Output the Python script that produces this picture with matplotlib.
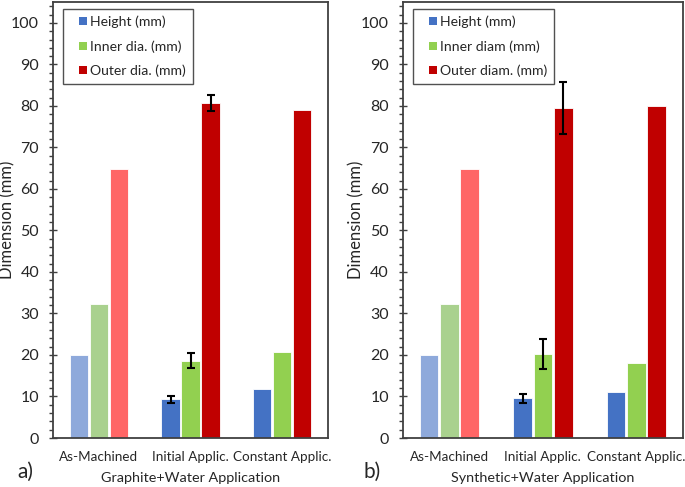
import numpy as np
import matplotlib
matplotlib.use("Agg")
import matplotlib.pyplot as plt
from matplotlib.patches import Patch, Rectangle
from matplotlib.legend_handler import HandlerPatch
from matplotlib.ticker import MultipleLocator

plt.rcParams['font.family'] = ['Lato', 'DejaVu Sans']

categories = ["As-Machined", "Initial Applic.", "Constant Applic."]

# Panel a) Graphite+Water
a_height = [20.0, 9.3, 11.9]
a_height_err = [0.0, 0.9, 0.0]
a_inner = [32.2, 18.6, 20.7]
a_inner_err = [0.0, 1.8, 0.0]
a_outer = [64.8, 80.7, 79.1]
a_outer_err = [0.0, 1.9, 0.0]

# Panel b) Synthetic+Water
b_height = [20.0, 9.6, 11.1]
b_height_err = [0.0, 1.1, 0.0]
b_inner = [32.2, 20.2, 18.1]
b_inner_err = [0.0, 3.6, 0.0]
b_outer = [64.8, 79.5, 80.0]
b_outer_err = [0.0, 6.2, 0.0]

a_labels = ["Height (mm)", "Inner dia. (mm)", "Outer dia. (mm)"]
b_labels = ["Height (mm)", "Inner diam (mm)", "Outer diam. (mm)"]

dark_colors = ["#4472C4", "#92D050", "#C00000"]
light_colors = ["#8EA9DB", "#A9D18E", "#FF6666"]

fig = plt.figure(figsize=(6.85, 4.87), dpi=100)
ax1 = fig.add_axes([0.0774, 0.1006, 0.4015, 0.895])
ax2 = fig.add_axes([0.588, 0.1006, 0.409, 0.895])


def square_patch(legend, orig_handle, xdescent, ydescent, width, height, fontsize):
    s = 6.0  # points
    return Rectangle((width - s - xdescent, -ydescent + (height - s) / 2), s, s)


def draw(ax, series, errs, labels, xlabel):
    x = np.arange(len(categories))
    slot = 0.218
    width = 0.2
    for s, (vals, err) in enumerate(zip(series, errs)):
        off = (s - 1) * slot
        colors = [light_colors[s]] + [dark_colors[s]] * (len(categories) - 1)
        ax.bar(x + off, vals, width=width, color=colors, edgecolor='white',
               linewidth=0.6, zorder=2)
        for i in range(len(categories)):
            if err[i] > 0:
                ax.errorbar(x[i] + off, vals[i], yerr=err[i], fmt='none',
                            ecolor='black', elinewidth=1.5, capsize=2.6,
                            capthick=1.5, zorder=3)
    ax.set_xlim(-0.5, len(categories) - 0.5)
    ax.set_ylim(0, 105)
    ax.yaxis.set_major_locator(MultipleLocator(10))
    ax.yaxis.set_minor_locator(MultipleLocator(2))
    ax.set_yticks(np.arange(0, 101, 10))
    ax.set_xticks(x)
    ax.set_xticklabels(categories, fontsize=9.7, color='#262626')
    ax.tick_params(axis='x', length=0, pad=9)
    ax.tick_params(axis='y', which='major', direction='inout', length=6,
                   width=1, color='#404040', labelsize=11.5, labelcolor='#262626', pad=7)
    ax.tick_params(axis='y', which='minor', direction='out', length=3,
                   width=1, color='#404040')
    for sp in ax.spines.values():
        sp.set_color('#404040')
        sp.set_linewidth(1.3)
    ax.set_ylabel("Dimension (mm)", fontsize=12, color='#262626')
    ax.yaxis.set_label_coords(-0.138, 0.5)
    ax.set_xlabel(xlabel, fontsize=10.4, color='#262626', labelpad=7)
    handles = [Patch(facecolor=c, edgecolor='none') for c in dark_colors]
    leg = ax.legend(handles, labels, loc='upper left', bbox_to_anchor=(0.038, 0.985),
                    fontsize=10.1, frameon=True, fancybox=False, edgecolor='#262626',
                    handlelength=1.2, handleheight=0.7, handletextpad=0.2,
                    labelspacing=0.85, borderpad=0.5, borderaxespad=0.0,
                    handler_map={Patch: HandlerPatch(patch_func=square_patch)})
    leg.get_frame().set_linewidth(1.0)
    for t in leg.get_texts():
        t.set_color('#262626')
    return ax

draw(ax1, [a_height, a_inner, a_outer], [a_height_err, a_inner_err, a_outer_err],
     a_labels, "Graphite+Water Application")
draw(ax2, [b_height, b_inner, b_outer], [b_height_err, b_inner_err, b_outer_err],
     b_labels, "Synthetic+Water Application")

fig.text(25 / 685, 1 - 472 / 487, "a)", fontsize=15, ha='center', va='center', color='#262626')
fig.text(372 / 685, 1 - 472 / 487, "b)", fontsize=15, ha='center', va='center', color='#262626')

fig.savefig("out.png", dpi=100)
